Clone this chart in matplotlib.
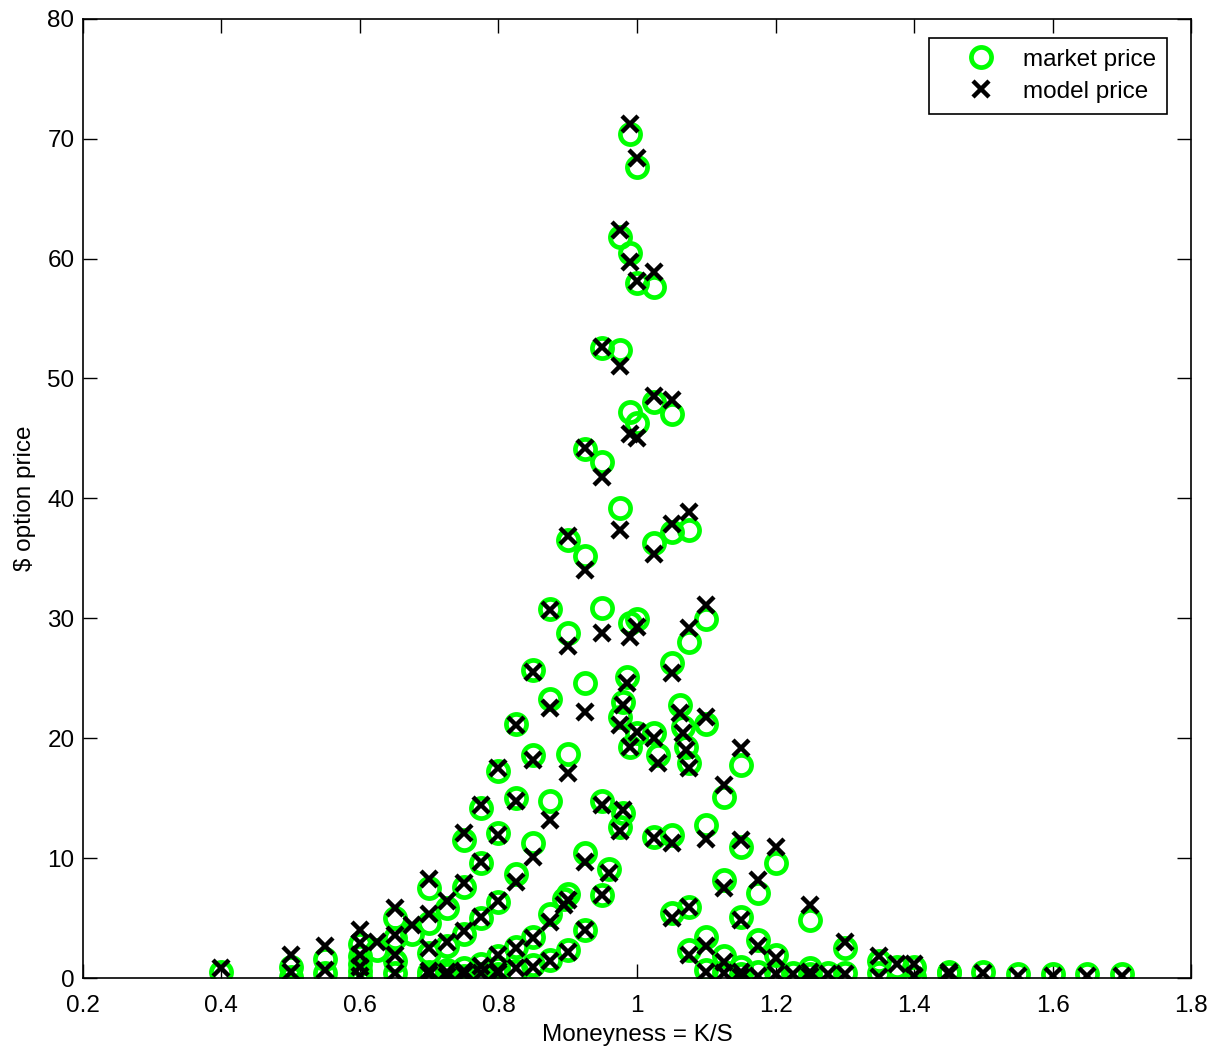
import numpy as np
import matplotlib
matplotlib.use("Agg")
import matplotlib.pyplot as plt

# Moneyness K/S with market and model option prices in $
moneyness = [0.4,
             0.5, 0.5,
             0.55, 0.55,
             0.6, 0.6, 0.6, 0.6, 0.6,
             0.625,
             0.65, 0.65, 0.65, 0.65,
             0.675,
             0.7, 0.7, 0.7, 0.7, 0.7,
             0.725, 0.725, 0.725, 0.725,
             0.75, 0.75, 0.75, 0.75, 0.75,
             0.775, 0.775, 0.775, 0.775, 0.775,
             0.8, 0.8, 0.8, 0.8, 0.8, 0.8,
             0.825, 0.825, 0.825, 0.825, 0.825,
             0.85, 0.85, 0.85, 0.85, 0.85,
             0.875, 0.875, 0.875, 0.875, 0.875,
             0.9, 0.9, 0.9, 0.9, 0.895, 0.9,
             0.925, 0.925, 0.925, 0.925, 0.925,
             0.95, 0.95, 0.95, 0.95, 0.95,
             0.96,
             0.975, 0.975, 0.975, 0.975, 0.975,
             0.98, 0.98,
             0.985,
             0.99, 0.99, 0.99, 0.99, 0.99,
             1.0, 1.0, 1.0, 1.0, 1.0,
             1.025, 1.025, 1.025, 1.025, 1.025,
             1.03,
             1.05, 1.05, 1.05, 1.05, 1.05,
             1.062, 1.067, 1.071,
             1.075, 1.075, 1.075, 1.075, 1.075,
             1.1, 1.1, 1.1, 1.1, 1.1,
             1.125, 1.125, 1.125, 1.125,
             1.15, 1.15, 1.15, 1.15, 1.15,
             1.175, 1.175, 1.175,
             1.2, 1.2, 1.2,
             1.225,
             1.25, 1.25, 1.25,
             1.275,
             1.3, 1.3,
             1.35, 1.35,
             1.375,
             1.4, 1.4,
             1.45, 1.45,
             1.5, 1.55, 1.6, 1.65, 1.7]

market_price = [0.5,
                0.9, 0.1,
                1.6, 0.4,
                2.8, 1.8, 1.2, 0.6, 0.1,
                2.3,
                5.0, 3.3, 1.4, 0.4,
                3.7,
                7.5, 4.6, 2.1, 0.5, 0.2,
                5.8, 2.7, 0.7, 0.3,
                11.5, 7.6, 3.7, 0.8, 0.2,
                14.2, 9.6, 5.0, 1.2, 0.3,
                17.3, 12.1, 6.3, 1.8, 0.8, 0.3,
                21.2, 15.0, 8.7, 2.6, 0.6,
                25.7, 18.6, 11.3, 3.4, 1.1,
                30.8, 23.3, 14.8, 5.3, 1.5,
                36.5, 28.8, 18.7, 7.0, 6.6, 2.3,
                44.1, 35.2, 24.6, 10.4, 4.0,
                52.5, 43.0, 30.9, 14.8, 6.9,
                9.1,
                61.8, 52.4, 39.2, 21.8, 12.6,
                23.0, 13.8,
                25.1,
                70.4, 60.5, 47.2, 29.6, 19.3,
                67.6, 58.0, 46.3, 29.9, 20.4,
                57.6, 48.0, 36.3, 20.4, 11.8,
                18.6,
                47.0, 37.2, 26.3, 11.9, 5.4,
                22.8, 20.9, 19.3,
                37.4, 28.0, 17.9, 5.9, 2.3,
                29.9, 21.2, 12.8, 3.4, 0.7,
                15.1, 8.2, 1.8, 0.5,
                17.8, 10.9, 5.1, 0.9, 0.3,
                7.1, 3.2, 0.5,
                9.6, 1.9, 0.5,
                0.4,
                4.8, 0.8, 0.3,
                0.4,
                2.5, 0.4,
                1.4, 0.4,
                0.9,
                0.9, 0.1,
                0.5, 0.4,
                0.5, 0.3, 0.3, 0.3, 0.3]

model_price = [0.8,
               1.9, 0.5,
               2.7, 0.7,
               4.0, 2.9, 1.9, 0.9, 0.2,
               3.0,
               5.8, 3.6, 1.9, 0.4,
               4.4,
               8.3, 5.3, 2.5, 0.6, 0.3,
               6.4, 3.0, 0.5, 0.2,
               12.1, 7.9, 3.9, 0.6, 0.3,
               14.4, 9.7, 5.1, 1.0, 0.4,
               17.5, 11.9, 6.4, 1.9, 0.6, 0.4,
               21.1, 14.8, 8.0, 2.5, 0.8,
               25.5, 18.2, 10.1, 3.3, 0.9,
               30.7, 22.5, 13.2, 4.7, 1.4,
               36.9, 27.7, 17.1, 6.5, 6.1, 2.2,
               44.2, 34.0, 22.2, 9.7, 4.0,
               52.6, 41.8, 28.8, 14.4, 6.9,
               8.8,
               62.4, 51.0, 37.4, 21.1, 12.3,
               22.8, 14.0,
               24.6,
               71.2, 59.7, 45.4, 28.4, 19.3,
               68.4, 58.1, 45.0, 29.3, 20.5,
               58.9, 48.5, 35.4, 20.0, 11.7,
               17.9,
               48.2, 37.9, 25.4, 11.3, 5.0,
               22.1, 20.4, 19.0,
               38.9, 29.2, 17.5, 5.9, 1.9,
               31.1, 21.8, 11.6, 2.7, 0.5,
               16.1, 7.5, 1.3, 0.4,
               19.2, 11.5, 4.8, 0.5, 0.1,
               8.2, 2.7, 0.2,
               10.9, 1.7, 0.3,
               0.3,
               6.1, 0.5, 0.2,
               0.3,
               3.0, 0.3,
               1.8, 0.1,
               1.2,
               1.2, 0.2,
               0.5, 0.3,
               0.4, 0.2, 0.2, 0.2, 0.2]

plt.rcParams['font.family'] = ['Liberation Sans', 'DejaVu Sans']
plt.rcParams['font.size'] = 17.5

fig = plt.figure(figsize=(12.18, 10.53), dpi=100)
ax = fig.add_axes([0.068, 0.0712, 0.910, 0.911])

ax.plot(moneyness, market_price, 'o', color='none', markeredgecolor=(0, 1, 0),
        markersize=14.5, markeredgewidth=3.4, label='market price')
ax.plot(moneyness, model_price, 'x', color='black',
        markersize=11.5, markeredgewidth=3.2, label='model price')

ax.set_xlim(0.2, 1.8)
ax.set_ylim(0, 80)
ax.set_xticks(np.arange(0.2, 1.81, 0.2))
ax.set_xticklabels(['0.2', '0.4', '0.6', '0.8', '1', '1.2', '1.4', '1.6', '1.8'])
ax.set_yticks(np.arange(0, 81, 10))

ax.tick_params(direction='in', length=10, width=1, top=True, right=True,
               labelsize=17.5)
ax.tick_params(axis='x', pad=12)
ax.tick_params(axis='y', pad=6)
for s in ax.spines.values():
    s.set_linewidth(1.2)

ax.set_xlabel('Moneyness = K/S', labelpad=5)
ax.set_ylabel(r'\$ option price', labelpad=8)

leg = ax.legend(loc='upper right', bbox_to_anchor=(0.9785, 0.98), fancybox=False,
                framealpha=1, edgecolor='black', borderpad=0.45, handletextpad=0.05,
                labelspacing=0.4, borderaxespad=0.0, handlelength=3.4)
leg.get_frame().set_linewidth(1.2)

plt.savefig('out.png', dpi=100)
